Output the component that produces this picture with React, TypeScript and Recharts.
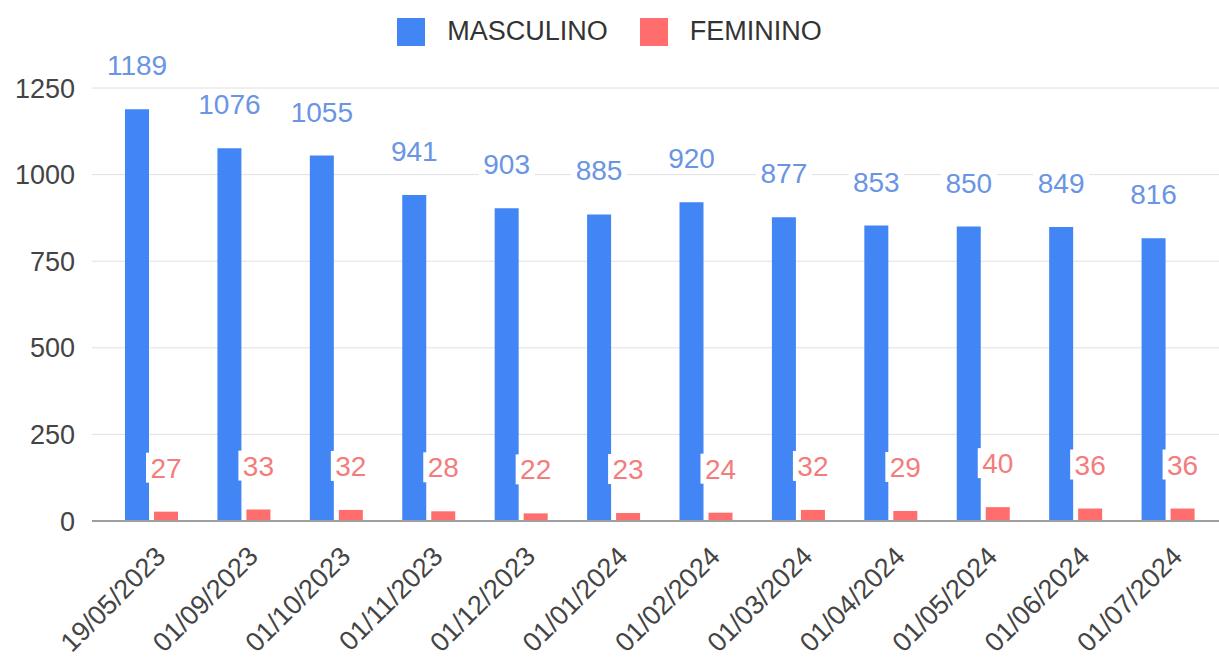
import React from 'react';
import { BarChart, Bar, XAxis, YAxis, CartesianGrid, Legend, LabelList } from 'recharts';

const dates = [
  '19/05/2023', '01/09/2023', '01/10/2023', '01/11/2023', '01/12/2023', '01/01/2024',
  '01/02/2024', '01/03/2024', '01/04/2024', '01/05/2024', '01/06/2024', '01/07/2024',
];
const masculino = [1189, 1076, 1055, 941, 903, 885, 920, 877, 853, 850, 849, 816];
const feminino = [27, 33, 32, 28, 22, 23, 24, 32, 29, 40, 36, 36];
const yTicks = [0, 250, 500, 750, 1000, 1250];

const BLUE = '#4285f4';
const RED = '#ff6d6d';
const FONT = '"Liberation Sans", Arial, sans-serif';

const data = dates.map((d, i) => ({ date: d, masculino: masculino[i], feminino: feminino[i] }));

// value labels sit ~44px above the bar top, on a white box
const makeLabel = (color: string) => (props: any) => {
  const { x, y, width, value } = props;
  const cx = x + width / 2;
  const cy = y - 44;
  const w = String(value).length * 16 + 8;
  return (
    <g>
      <rect x={cx - w / 2} y={cy - 15} width={w} height={30} fill="#fff" />
      <text x={cx} y={cy} dy={10} textAnchor="middle" fontSize={28} fontFamily={FONT} fill={color}>
        {value}
      </text>
    </g>
  );
};

const DateTick = (props: any) => {
  const { x, y, payload } = props;
  const tx = x + 16;
  const ty = y + 29;
  return (
    <text
      x={tx}
      y={ty}
      textAnchor="end"
      fontSize={27}
      fontFamily={FONT}
      fill="#444"
      transform={`rotate(-45 ${tx} ${ty})`}
    >
      {payload.value}
    </text>
  );
};

const LegendContent = () => (
  <div style={{ display: 'flex', justifyContent: 'center', fontFamily: FONT, fontSize: 27, color: '#333' }}>
    {[
      { name: 'MASCULINO', color: BLUE },
      { name: 'FEMININO', color: RED },
    ].map((it, i) => (
      <div key={it.name} style={{ display: 'flex', alignItems: 'center', marginLeft: i ? 32 : 0 }}>
        <span style={{ width: 28, height: 28, background: it.color, display: 'inline-block', marginRight: 22 }} />
        <span>{it.name}</span>
      </div>
    ))}
  </div>
);

export default function App() {
  return (
    <div style={{ position: 'absolute', left: 0, top: 0, background: '#fff' }}>
      <BarChart
        width={1219}
        height={657}
        data={data}
        margin={{ top: 57, right: 0, left: 0, bottom: 106 }}
        barSize={24}
        barGap={5}
      >
        <CartesianGrid horizontal vertical={false} stroke="#e0e0e0" />
        <Legend verticalAlign="top" content={<LegendContent />} wrapperStyle={{ top: 16 }} />
        <XAxis
          dataKey="date"
          interval={0}
          padding={{ left: 13, right: 5 }}
          tick={<DateTick />}
          tickLine={false}
          axisLine={{ stroke: '#9e9e9e', strokeWidth: 2 }}
        />
        <YAxis
          width={92}
          domain={[0, 1250]}
          ticks={yTicks}
          tickLine={false}
          axisLine={false}
          tickMargin={11}
          tick={{ fontSize: 27, fontFamily: FONT, fill: '#444' }}
        />
        <Bar dataKey="masculino" name="MASCULINO" fill={BLUE} isAnimationActive={false}>
          <LabelList dataKey="masculino" content={makeLabel('#6a95e4')} />
        </Bar>
        <Bar dataKey="feminino" name="FEMININO" fill={RED} isAnimationActive={false}>
          <LabelList dataKey="feminino" content={makeLabel('#f47c7c')} />
        </Bar>
      </BarChart>
    </div>
  );
}
